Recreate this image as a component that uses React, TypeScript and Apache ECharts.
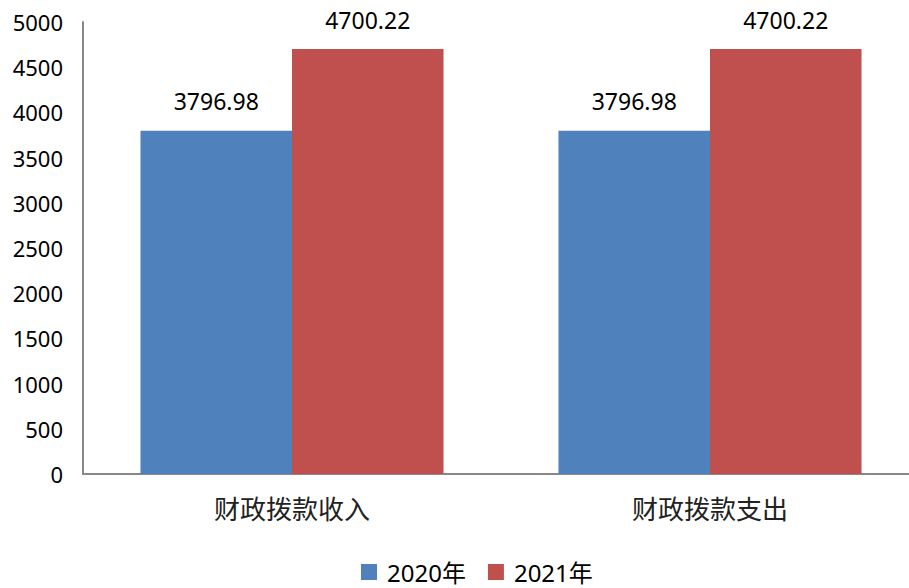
import React, { useEffect, useRef } from "react";
import * as echarts from "echarts";

const categories = ["财政拨款收入", "财政拨款支出"];
const seriesNames = ["2020年", "2021年"];
const values2020 = [3796.98, 3796.98];
const values2021 = [4700.22, 4700.22];
const yTicks = [0, 500, 1000, 1500, 2000, 2500, 3000, 3500, 4000, 4500, 5000];

const NUM_FONT = '"Noto Sans", "Noto Sans CJK SC", sans-serif';
const CJK_FONT = '"Noto Sans CJK SC", sans-serif';

export default function App() {
  const ref = useRef<HTMLDivElement>(null);
  useEffect(() => {
    if (!ref.current) return;
    const chart = echarts.init(ref.current, null, { renderer: "svg" });
    const labelStyle = {
      show: true,
      position: "top" as const,
      distance: 18,
      fontSize: 23,
      color: "#000",
      fontFamily: NUM_FONT,
      formatter: (p: any) => Number(p.value).toFixed(2),
    };
    chart.setOption({
      animation: false,
      backgroundColor: "#fff",
      grid: {
        left: 83,
        top: 22,
        width: 836,
        height: 452,
        containLabel: false,
        outerBoundsMode: "none",
      },
      legend: {
        left: 361,
        top: 560,
        padding: 0,
        itemWidth: 16,
        itemHeight: 16,
        itemGap: 22,
        icon: "rect",
        textStyle: {
          fontSize: 24,
          lineHeight: 24,
          color: "#000",
          fontFamily: NUM_FONT,
          padding: [0, 0, 0, 5],
        },
        data: seriesNames,
      },
      xAxis: {
        type: "category",
        data: categories,
        axisLine: { show: true, lineStyle: { color: "#888", width: 2 } },
        axisTick: { show: false },
        axisLabel: {
          fontSize: 26,
          color: "#222",
          margin: 20,
          fontFamily: CJK_FONT,
        },
      },
      yAxis: {
        type: "value",
        min: yTicks[0],
        max: yTicks[yTicks.length - 1],
        interval: 500,
        axisLine: { show: true, lineStyle: { color: "#888", width: 2 } },
        axisTick: { show: false },
        splitLine: { show: false },
        axisLabel: {
          fontSize: 22,
          color: "#000",
          margin: 20,
          fontFamily: NUM_FONT,
          formatter: (v: number) => String(v),
        },
      },
      series: [
        {
          name: seriesNames[0],
          type: "bar",
          data: values2020,
          itemStyle: { color: "#4F81BD" },
          barGap: "0%",
          barCategoryGap: "27.5%",
          label: labelStyle,
        },
        {
          name: seriesNames[1],
          type: "bar",
          data: values2021,
          itemStyle: { color: "#C0504D" },
          barGap: "0%",
          barCategoryGap: "27.5%",
          label: labelStyle,
        },
      ],
    });
    return () => chart.dispose();
  }, []);
  return (
    <div
      ref={ref}
      style={{ position: "fixed", left: 0, top: 0, width: 909, height: 588 }}
    />
  );
}
